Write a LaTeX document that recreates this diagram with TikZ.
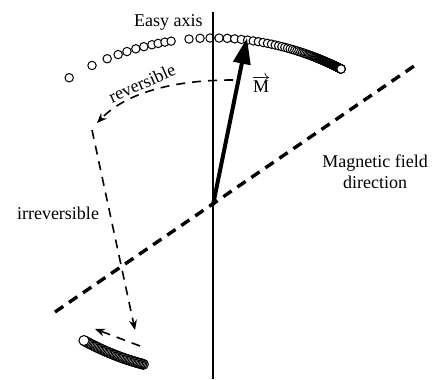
\documentclass[tikz,border=0pt]{standalone}
\usepackage{fontspec}
\setmainfont{Liberation Serif}
\usetikzlibrary{arrows.meta,positioning,calc}
\tikzset{
  lab/.style={font=\fontsize{9}{10.5}\selectfont,inner sep=1pt,align=center},
  axisline/.style={line width=1.2pt},
  fieldline/.style={line width=1.7pt,dash pattern=on 5pt off 3.5pt},
  mvec/.style={line width=2pt,-{Triangle[length=13pt,width=8.5pt]}},
  swing/.style={line width=0.8pt,dash pattern=on 4.5pt off 3.5pt,-{Stealth[length=5pt,width=4pt]}},
  dot/.style={draw,fill=white,line width=0.5pt},
}
\begin{document}
\begin{tikzpicture}[x=0.5pt,y=0.5pt]
  \useasboundingbox (0,0) rectangle (432,379);
  \coordinate (O) at (213,174);
  \coordinate (C) at (213,61);
  \coordinate (D) at (210,267);
  \coordinate (axtop) at (213,367);
  \coordinate (axbot) at (213,0);
  \coordinate (fA) at (55,67);
  \coordinate (fB) at (417,315);
  \coordinate (Mtip) at (247,341);
  \coordinate (r0) at (233,299);
  \coordinate (r1) at (97,256);
  \coordinate (i0) at (92,249);
  \coordinate (i1) at (135,49);
  \coordinate (b0) at (140,33);
  \coordinate (b1) at (95,50);
  \foreach \a in {120.9,115.6,112.2,109.8,107.9,106.0,104.3,102.6,101.3,99.9,98.6}
    \draw[dot] ($(C)+(\a:280)$) circle (2.1pt);
  \foreach \i in {0,...,150}
    \draw[dot] ($(C)+({62+1/(0.1743+0.00635*\i)^2}:280)$) circle (2.1pt);
  \foreach \i in {0,...,45}
    \draw[dot] ($(D)+({255.2-0.313*\i}:261)$) circle (2.5pt);
  \draw[axisline] (axbot) -- (axtop);
  \draw[fieldline] (fA) -- (fB);
  \draw[mvec] (O) -- (Mtip);
  \draw[swing] (r0) .. controls (170,299) and (125,285) .. (r1);
  \draw[swing] (i0) -- (i1);
  \draw[swing] (b0) -- (b1);
  \node[lab,anchor=north east] (easy) at ([xshift=-4pt]axtop) {Easy axis};
  \node[lab] (mlab) at (261,295) {$\overrightarrow{\textrm{M}}$};
  \node[lab,rotate=24] (rev) at (142,296) {reversible};
  \node[lab] (irr) at (58,166) {irreversible};
  \node[lab] (field) at (375,207) {Magnetic field\\direction};
\end{tikzpicture}
\end{document}
